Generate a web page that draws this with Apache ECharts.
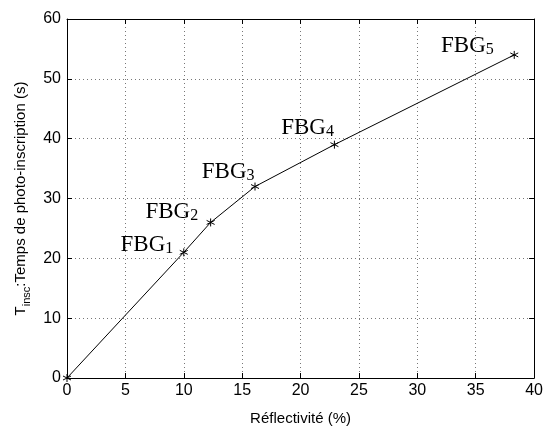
<!DOCTYPE html>
<html>
<head>
<meta charset="utf-8">
<script src="https://cdn.jsdelivr.net/npm/echarts@6/dist/echarts.min.js"></script>
<style>
	html, body { margin: 0; padding: 0; background: #fff; }
	#chart { width: 546px; height: 431px; }
</style>
</head>
<body>
<div id="chart"></div>
<script>
	'use strict'
	/*----data----*/
	var reflectivity = [0, 10, 12.3, 16.1, 22.9, 38.3];
	var inscTime = [0, 21, 26, 32, 39, 54];
	var pointNames = ['', '1', '2', '3', '4', '5'];
	var xTicks = [0, 5, 10, 15, 20, 25, 30, 35, 40];
	var yTicks = [0, 10, 20, 30, 40, 50, 60];

	// label offsets per point (px)
	var labelOffsets = [[0, 0], [-6, 4], [-8, 1], [4, -3], [4, -5], [-16, 3]];

	var points = reflectivity.map(function(x, i) {
		var item = { value: [x, inscTime[i]] };
		if (pointNames[i]) {
			item.label = {
				show: true,
				position: 'left',
				distance: 0,
				align: 'right',
				verticalAlign: 'bottom',
				offset: labelOffsets[i],
				formatter: '{a|FBG}{b|' + pointNames[i] + '}'
			};
		}
		return item;
	});

	var gridColor = '#777';
	var tickFont = {
		fontSize: 16,
		color: '#000',
		fontFamily: 'Liberation Sans'
	};

	var chart = echarts.init(document.getElementById('chart'), null, { renderer: 'canvas' });
	var option = {
		animation: false,
		backgroundColor: '#fff',
		grid: {
			top: 19,
			right: 9,
			bottom: 42,
			left: 67
		},
		xAxis: [{
			type: 'value',
			min: xTicks[0],
			max: xTicks[xTicks.length - 1],
			interval: 5,
			name: 'Réflectivité (%)',
			nameLocation: 'middle',
			nameGap: 33,
			nameTextStyle: {
				fontSize: 15,
				color: '#000',
				fontFamily: 'Liberation Sans'
			},
			axisLine: { lineStyle: { color: '#000', width: 1 } },
			axisTick: { inside: true, length: 5, lineStyle: { color: '#000' } },
			axisLabel: Object.assign({ margin: 5 }, tickFont),
			splitLine: {
				show: true,
				lineStyle: { color: gridColor, type: [1, 3], width: 1 }
			}
		}, {
			type: 'value',
			position: 'top',
			min: xTicks[0],
			max: xTicks[xTicks.length - 1],
			interval: 5,
			axisLine: { show: true, onZero: false, lineStyle: { color: '#000', width: 1 } },
			axisTick: { show: true, inside: true, length: 5, lineStyle: { color: '#000' } },
			axisLabel: { show: false },
			splitLine: { show: false }
		}],
		yAxis: [{
			type: 'value',
			min: yTicks[0],
			max: yTicks[yTicks.length - 1],
			interval: 10,
			name: '{t|T}{s|insc}{t|:Temps de photo-inscription (s)}',
			nameLocation: 'middle',
			nameGap: 38,
			nameTextStyle: {
				rich: {
					t: { fontSize: 15, color: '#000', fontFamily: 'Liberation Sans', verticalAlign: 'bottom' },
					s: { fontSize: 11, color: '#000', fontFamily: 'Liberation Sans', verticalAlign: 'bottom', padding: [0, 0, -4, 0] }
				}
			},
			axisLine: { lineStyle: { color: '#000', width: 1 } },
			axisTick: { inside: true, length: 5, lineStyle: { color: '#000' } },
			axisLabel: Object.assign({ margin: 6 }, tickFont),
			splitLine: {
				show: true,
				lineStyle: { color: gridColor, type: [1, 3], width: 1 }
			}
		}, {
			type: 'value',
			position: 'right',
			min: yTicks[0],
			max: yTicks[yTicks.length - 1],
			interval: 10,
			axisLine: { show: true, onZero: false, lineStyle: { color: '#000', width: 1 } },
			axisTick: { show: true, inside: true, length: 5, lineStyle: { color: '#000' } },
			axisLabel: { show: false },
			splitLine: { show: false }
		}],
		series: [{
			name: 'Tinsc',
			type: 'line',
			data: points,
			symbol: 'path://M0,-5L0,5M-4.33,-2.5L4.33,2.5M-4.33,2.5L4.33,-2.5',
			symbolSize: 8,
			showAllSymbol: true,
			lineStyle: { color: '#000', width: 1 },
			itemStyle: { color: '#000', borderColor: '#000', borderWidth: 1 },
			label: {
				rich: {
					a: { fontSize: 23, color: '#000', fontFamily: 'Liberation Serif', verticalAlign: 'bottom' },
					b: { fontSize: 16, color: '#000', fontFamily: 'Liberation Serif', verticalAlign: 'bottom' }
				}
			},
			emphasis: { disabled: true }
		}]
	};
	chart.setOption(option);
</script>
</body>
</html>
